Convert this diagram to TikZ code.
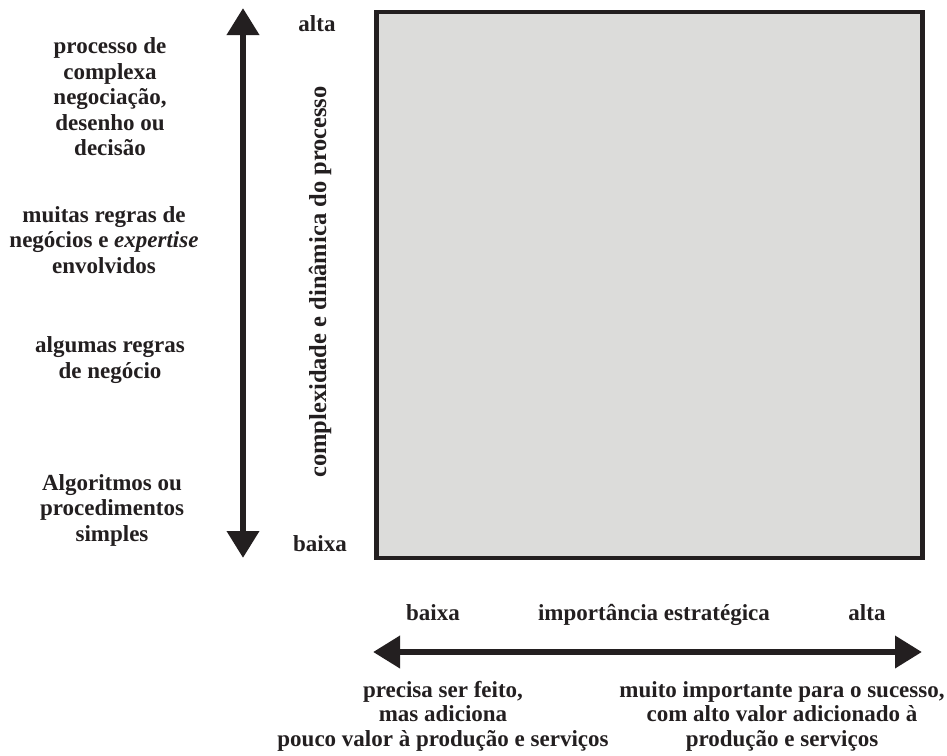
\documentclass[tikz,border=0pt]{standalone}
\usepackage{fontspec}
\setmainfont{Liberation Serif}
\usetikzlibrary{arrows.meta}
\definecolor{ink}{HTML}{231F20}
\definecolor{boxgray}{HTML}{DCDCDA}
\begin{document}
\begin{tikzpicture}[x=1pt,y=-1pt,
  lbl/.style={font=\fontsize{23}{25.5}\selectfont\bfseries, text=ink, align=center, inner sep=0pt},
  lowlbl/.style={lbl, font=\fontsize{23}{24.5}\selectfont\bfseries},
  bigarrow/.style={draw=ink, line width=6.8pt, {Triangle[length=27pt,width=31pt]}-{Triangle[length=27pt,width=31pt]}},
  quad/.style={draw=ink, fill=boxgray, line width=4.5pt, inner sep=0pt, minimum width=546pt, minimum height=546pt, anchor=north west}]
\useasboundingbox (0,0) rectangle (947,755);
% square
\node[quad] (box) at (374,9.5) {};
% vertical arrow
\coordinate (vtop) at (243,8);
\coordinate (vbot) at (243,558);
\draw[bigarrow] (vbot) -- (vtop);
% horizontal arrow
\coordinate (hleft) at (373,652);
\coordinate (hright) at (922,652);
\draw[bigarrow] (hleft) -- (hright);
% vertical axis labels
\node[lbl] (valta) at (317,24) {alta};
\node[lbl] (vbaixa) at (320,544) {baixa};
\node[lbl, font=\fontsize{24.5}{28}\selectfont\bfseries, rotate=90] (vtitle) at (320,282) {complexidade e dinâmica do processo};
% left descriptions
\node[lbl] (l1) at (110,97) {processo de\\complexa\\negociação,\\desenho ou\\decisão};
\node[lbl] (l2) at (104,240) {muitas regras de\\negócios e \textit{expertise}\\envolvidos};
\node[lbl] (l3) at (110,360) {algumas regras\\de negócio};
\node[lbl] (l4) at (112,510) {Algoritmos ou\\procedimentos\\simples};
% horizontal axis labels
\node[lbl, anchor=base] (hbaixa) at (433,620) {baixa};
\node[lbl, anchor=base] (htitle) at (654,620) {importância estratégica};
\node[lbl, anchor=base] (halta) at (867,620) {alta};
% bottom descriptions
\node[lowlbl] (b1) at (443,716) {precisa ser feito,\\mas adiciona\\pouco valor à produção e serviços};
\node[lowlbl] (b2) at (782,716) {muito importante para o sucesso,\\com alto valor adicionado à\\produção e serviços};
\end{tikzpicture}
\end{document}
